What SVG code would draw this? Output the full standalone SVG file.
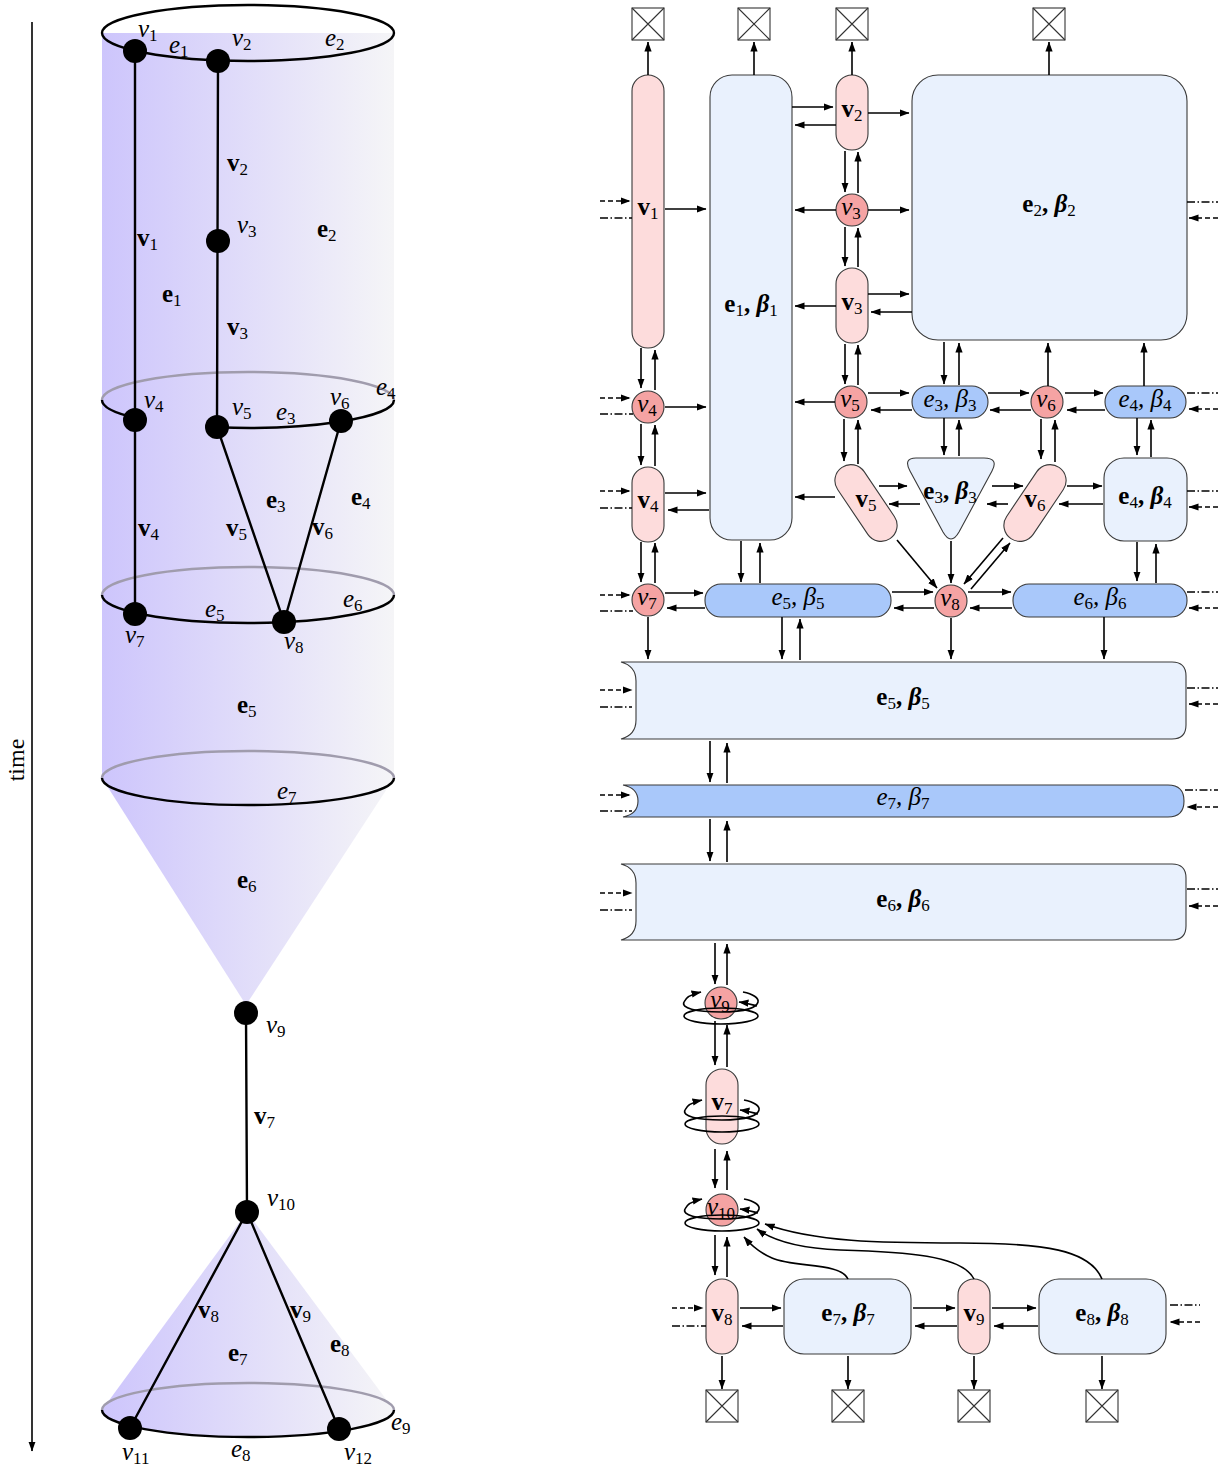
<svg xmlns="http://www.w3.org/2000/svg" width="1225" height="1470" viewBox="0 0 1225 1470">
<defs>
<style>
text{font-family:"Liberation Serif","DejaVu Serif",serif;font-size:25px;fill:#000}
.b{font-weight:bold}
.i{font-style:italic}
.s{font-size:17px;font-weight:normal;font-style:normal}
.bi{font-style:italic;font-weight:bold}
.vp{fill:#fddcdc;stroke:#3a3a3a;stroke-width:1.1}
.vc{fill:#f5a3a3;stroke:#3a3a3a;stroke-width:1.1}
.el{fill:#e9f1fd;stroke:#3a3a3a;stroke-width:1.1}
.em{fill:#a9c8fa;stroke:#3a3a3a;stroke-width:1.1}
.xb{fill:#fff;stroke:#333;stroke-width:1.1}
.c{stroke:#000;stroke-width:1.6;fill:none;marker-end:url(#ah)}
.cd{stroke:#000;stroke-width:1.6;fill:none;stroke-dasharray:5 3;marker-end:url(#ah)}
.dd{stroke:#000;stroke-width:1.6;fill:none;stroke-dasharray:8 2.5 1.5 2.5}
.n{stroke:#000;stroke-width:1.6;fill:none}
.k{stroke:#000;stroke-width:2.4;fill:none}
.g{stroke:#a09cad;stroke-width:2.4;fill:none}
.dot{fill:#000}
</style>
<linearGradient id="gb" gradientUnits="userSpaceOnUse" x1="102" y1="0" x2="394" y2="0"><stop offset="0" stop-color="#cdc5fc"/><stop offset="1" stop-color="#f5f5f7"/></linearGradient>
<linearGradient id="gt" gradientUnits="userSpaceOnUse" x1="102" y1="0" x2="394" y2="0"><stop offset="0" stop-color="#f4f4f7"/><stop offset="1" stop-color="#cdc5fc"/></linearGradient>
<marker id="ah" viewBox="0 0 10 8" refX="9.5" refY="4" markerWidth="10" markerHeight="8" markerUnits="userSpaceOnUse" orient="auto"><path d="M0,0.4 L10,4 L0,7.6 Z" fill="#000"/></marker>
<g id="xbox"><rect x="-16" y="-16" width="32" height="32" class="xb"/><path d="M-16,-16 L16,16 M16,-16 L-16,16" stroke="#333" stroke-width="1.1"/></g>
<g id="coil">
<ellipse cx="0" cy="13" rx="37" ry="8" class="n"/>
<path d="M0,9 C-26,9 -40,5 -37,-1 C-35,-6 -29,-9 -20,-11" class="n" marker-end="url(#ah)"/>
<path d="M22,-11 C32,-9 38,-5 37,-1 C36,4 26,9 0,9" class="n"/>
<path d="M36,3 C32,2 27,0 18,-1" class="n" marker-end="url(#ah)"/>
</g>
</defs>
<rect width="1225" height="1470" fill="#fff"/>

<!-- LEFT: spacetime figure -->
<g id="left-figure">
<line x1="32" y1="22" x2="32" y2="1451" class="c" style="stroke-width:1.6"/>
<text x="24" y="760" style="font-size:24px" text-anchor="middle" transform="rotate(-90 24 760)">time</text>

<path d="M102,33 V778 L246,1005 L394,778 V33 Z" fill="url(#gb)"/>
<path d="M247,1212 L102,1410 A146,27 0 0 0 394,1410 Z" fill="url(#gb)"/>
<ellipse cx="248" cy="1410" rx="146" ry="27" fill="url(#gb)"/>
<ellipse cx="248" cy="33" rx="146" ry="28" fill="url(#gt)" class="k"/>

<path d="M102,400 A146,28 0 0 1 394,400" class="g"/>
<path d="M102,400 A146,28 0 0 0 135,417.8" class="k"/>
<path d="M217,427.3 A146,28 0 0 0 394,400" class="k"/>
<path d="M102,595 A146,28 0 0 1 394,595" class="g"/>
<path d="M102,595 A146,28 0 0 0 394,595" class="k"/>
<path d="M102,778 A146,27 0 0 1 394,778" class="g"/>
<path d="M102,778 A146,27 0 0 0 394,778" class="k"/>
<path d="M102,1410 A146,27 0 0 1 394,1410" class="g"/>
<path d="M102,1410 A146,27 0 0 0 394,1410" class="k"/>

<path d="M135,51 V614 M218,61 L217,427 L284,622 L341,421 M246,1013 L247,1212 L130,1428 M247,1212 L339,1429" class="k"/>

<circle cx="135" cy="51" r="12" class="dot"/>
<circle cx="218" cy="61" r="12" class="dot"/>
<circle cx="218" cy="241" r="12" class="dot"/>
<circle cx="135" cy="420" r="12" class="dot"/>
<circle cx="217" cy="427" r="12" class="dot"/>
<circle cx="341" cy="421" r="12" class="dot"/>
<circle cx="135" cy="614" r="12" class="dot"/>
<circle cx="284" cy="622" r="12" class="dot"/>
<circle cx="246" cy="1013" r="12" class="dot"/>
<circle cx="247" cy="1212" r="12" class="dot"/>
<circle cx="130" cy="1428" r="12" class="dot"/>
<circle cx="339" cy="1429" r="12" class="dot"/>

<text class="i" x="138" y="37">v<tspan class="s" dy="4">1</tspan></text>
<text class="i" x="169" y="53">e<tspan class="s" dy="4">1</tspan></text>
<text class="i" x="232" y="46">v<tspan class="s" dy="4">2</tspan></text>
<text class="i" x="325" y="46">e<tspan class="s" dy="4">2</tspan></text>
<text class="b" x="227" y="171">v<tspan class="s" dy="4">2</tspan></text>
<text class="i" x="237" y="233">v<tspan class="s" dy="4">3</tspan></text>
<text class="b" x="317" y="237">e<tspan class="s" dy="4">2</tspan></text>
<text class="b" x="137" y="246">v<tspan class="s" dy="4">1</tspan></text>
<text class="b" x="162" y="302">e<tspan class="s" dy="4">1</tspan></text>
<text class="b" x="227" y="335">v<tspan class="s" dy="4">3</tspan></text>
<text class="i" x="144" y="408">v<tspan class="s" dy="4">4</tspan></text>
<text class="i" x="232" y="415">v<tspan class="s" dy="4">5</tspan></text>
<text class="i" x="276" y="420">e<tspan class="s" dy="4">3</tspan></text>
<text class="i" x="330" y="405">v<tspan class="s" dy="4">6</tspan></text>
<text class="i" x="376" y="395">e<tspan class="s" dy="4">4</tspan></text>
<text class="b" x="266" y="508">e<tspan class="s" dy="4">3</tspan></text>
<text class="b" x="351" y="505">e<tspan class="s" dy="4">4</tspan></text>
<text class="b" x="138" y="536">v<tspan class="s" dy="4">4</tspan></text>
<text class="b" x="226" y="536">v<tspan class="s" dy="4">5</tspan></text>
<text class="b" x="312" y="535">v<tspan class="s" dy="4">6</tspan></text>
<text class="i" x="205" y="617">e<tspan class="s" dy="4">5</tspan></text>
<text class="i" x="343" y="607">e<tspan class="s" dy="4">6</tspan></text>
<text class="i" x="125" y="643">v<tspan class="s" dy="4">7</tspan></text>
<text class="i" x="284" y="649">v<tspan class="s" dy="4">8</tspan></text>
<text class="b" x="237" y="713">e<tspan class="s" dy="4">5</tspan></text>
<text class="i" x="277" y="799">e<tspan class="s" dy="4">7</tspan></text>
<text class="b" x="237" y="888">e<tspan class="s" dy="4">6</tspan></text>
<text class="i" x="266" y="1033">v<tspan class="s" dy="4">9</tspan></text>
<text class="b" x="254" y="1124">v<tspan class="s" dy="4">7</tspan></text>
<text class="i" x="267" y="1206">v<tspan class="s" dy="4">10</tspan></text>
<text class="b" x="198" y="1318">v<tspan class="s" dy="4">8</tspan></text>
<text class="b" x="290" y="1318">v<tspan class="s" dy="4">9</tspan></text>
<text class="b" x="228" y="1361">e<tspan class="s" dy="4">7</tspan></text>
<text class="b" x="330" y="1352">e<tspan class="s" dy="4">8</tspan></text>
<text class="i" x="391" y="1430">e<tspan class="s" dy="4">9</tspan></text>
<text class="i" x="122" y="1460">v<tspan class="s" dy="4">11</tspan></text>
<text class="i" x="231" y="1457">e<tspan class="s" dy="4">8</tspan></text>
<text class="i" x="344" y="1460">v<tspan class="s" dy="4">12</tspan></text>
</g>

<!-- RIGHT: factor graph nodes -->
<g id="nodes">
<g id="x-top"><use href="#xbox" x="648" y="24"/><use href="#xbox" x="754" y="24"/><use href="#xbox" x="852" y="24"/><use href="#xbox" x="1049" y="24"/></g>
<g id="x-bottom"><use href="#xbox" x="722" y="1406"/><use href="#xbox" x="848" y="1406"/><use href="#xbox" x="974" y="1406"/><use href="#xbox" x="1102" y="1406"/></g>

<g id="nV1"><rect x="632" y="75" width="32" height="273" rx="16" class="vp"/><text class="b" x="648" y="215" text-anchor="middle">v<tspan class="s" dy="4">1</tspan></text></g>
<g id="nE1"><rect x="710" y="75" width="82" height="465" rx="22" class="el"/><text class="b" x="751" y="312" text-anchor="middle">e<tspan class="s" dy="4">1</tspan><tspan dy="-4">, </tspan><tspan class="bi">β</tspan><tspan class="s" dy="4">1</tspan></text></g>
<g id="nV2"><rect x="836" y="75" width="32" height="75" rx="16" class="vp"/><text class="b" x="852" y="117" text-anchor="middle">v<tspan class="s" dy="4">2</tspan></text></g>
<g id="nv3"><circle cx="852" cy="210" r="16" class="vc"/><text class="i" x="851" y="215" text-anchor="middle">v<tspan class="s" dy="4">3</tspan></text></g>
<g id="nV3"><rect x="836" y="268" width="32" height="75" rx="16" class="vp"/><text class="b" x="852" y="310" text-anchor="middle">v<tspan class="s" dy="4">3</tspan></text></g>
<g id="nE2"><rect x="912" y="75" width="275" height="265" rx="26" class="el"/><text class="b" x="1049" y="212" text-anchor="middle">e<tspan class="s" dy="4">2</tspan><tspan dy="-4">, </tspan><tspan class="bi">β</tspan><tspan class="s" dy="4">2</tspan></text></g>
<g id="nv4"><circle cx="648" cy="407" r="16" class="vc"/><text class="i" x="647" y="412" text-anchor="middle">v<tspan class="s" dy="4">4</tspan></text></g>
<g id="nV4"><rect x="632" y="467" width="32" height="75" rx="16" class="vp"/><text class="b" x="648" y="508" text-anchor="middle">v<tspan class="s" dy="4">4</tspan></text></g>
<g id="nv5"><circle cx="851" cy="402" r="16" class="vc"/><text class="i" x="850" y="407" text-anchor="middle">v<tspan class="s" dy="4">5</tspan></text></g>
<g id="ne3"><rect x="912" y="386" width="76" height="32" rx="16" class="em"/><text class="i" x="950" y="407" text-anchor="middle">e<tspan class="s" dy="4">3</tspan><tspan dy="-4">, β</tspan><tspan class="s" dy="4">3</tspan></text></g>
<g id="nv6"><circle cx="1047" cy="402" r="16" class="vc"/><text class="i" x="1046" y="407" text-anchor="middle">v<tspan class="s" dy="4">6</tspan></text></g>
<g id="ne4"><rect x="1105" y="386" width="81" height="32" rx="16" class="em"/><text class="i" x="1145" y="407" text-anchor="middle">e<tspan class="s" dy="4">4</tspan><tspan dy="-4">, β</tspan><tspan class="s" dy="4">4</tspan></text></g>
<g id="nV5"><rect x="-16" y="-43" width="32" height="86" rx="16" class="vp" transform="translate(866,503) rotate(-34)"/><text class="b" x="866" y="507" text-anchor="middle">v<tspan class="s" dy="4">5</tspan></text></g>
<g id="nE3"><path d="M916,458 H984 Q999,458 992,471 L959,532 Q951,546 943,532 L910,471 Q903,458 916,458 Z" class="el"/><text class="b" x="950" y="499" text-anchor="middle">e<tspan class="s" dy="4">3</tspan><tspan dy="-4">, </tspan><tspan class="bi">β</tspan><tspan class="s" dy="4">3</tspan></text></g>
<g id="nV6"><rect x="-16" y="-43" width="32" height="86" rx="16" class="vp" transform="translate(1035,503) rotate(34)"/><text class="b" x="1035" y="507" text-anchor="middle">v<tspan class="s" dy="4">6</tspan></text></g>
<g id="nE4"><rect x="1104" y="458" width="83" height="83" rx="20" class="el"/><text class="b" x="1145" y="504" text-anchor="middle">e<tspan class="s" dy="4">4</tspan><tspan dy="-4">, </tspan><tspan class="bi">β</tspan><tspan class="s" dy="4">4</tspan></text></g>
<g id="nv7"><circle cx="648" cy="600" r="16" class="vc"/><text class="i" x="647" y="605" text-anchor="middle">v<tspan class="s" dy="4">7</tspan></text></g>
<g id="ne5"><rect x="705" y="584" width="186" height="33" rx="16" class="em"/><text class="i" x="798" y="605" text-anchor="middle">e<tspan class="s" dy="4">5</tspan><tspan dy="-4">, β</tspan><tspan class="s" dy="4">5</tspan></text></g>
<g id="nv8"><circle cx="951" cy="601" r="16" class="vc"/><text class="i" x="950" y="606" text-anchor="middle">v<tspan class="s" dy="4">8</tspan></text></g>
<g id="ne6"><rect x="1013" y="584" width="174" height="33" rx="16" class="em"/><text class="i" x="1100" y="605" text-anchor="middle">e<tspan class="s" dy="4">6</tspan><tspan dy="-4">, β</tspan><tspan class="s" dy="4">6</tspan></text></g>
<g id="nE5"><path d="M621,662 H1172 Q1186,662 1186,676 V725 Q1186,739 1172,739 H621 Q636,735 636,720 V681 Q636,666 621,662 Z" class="el"/><text class="b" x="903" y="705" text-anchor="middle">e<tspan class="s" dy="4">5</tspan><tspan dy="-4">, </tspan><tspan class="bi">β</tspan><tspan class="s" dy="4">5</tspan></text></g>
<g id="nE7"><path d="M623,785 H1168 Q1184,785 1184,801 Q1184,817 1168,817 H623 Q638,814 638,801 Q638,788 623,785 Z" class="em"/><text class="i" x="903" y="805" text-anchor="middle">e<tspan class="s" dy="4">7</tspan><tspan dy="-4">, β</tspan><tspan class="s" dy="4">7</tspan></text></g>
<g id="nE6"><path d="M621,864 H1172 Q1186,864 1186,878 V926 Q1186,940 1172,940 H621 Q636,936 636,921 V883 Q636,868 621,864 Z" class="el"/><text class="b" x="903" y="907" text-anchor="middle">e<tspan class="s" dy="4">6</tspan><tspan dy="-4">, </tspan><tspan class="bi">β</tspan><tspan class="s" dy="4">6</tspan></text></g>
<g id="nv9"><circle cx="721" cy="1003" r="16" class="vc"/><text class="i" x="720" y="1008" text-anchor="middle">v<tspan class="s" dy="4">9</tspan></text><use href="#coil" x="721" y="1003"/></g>
<g id="nV7"><rect x="706" y="1069" width="32" height="75" rx="16" class="vp"/><text class="b" x="722" y="1110" text-anchor="middle">v<tspan class="s" dy="4">7</tspan></text><use href="#coil" x="722" y="1111"/></g>
<g id="nv10"><circle cx="722" cy="1210" r="16" class="vc"/><text class="i" x="721" y="1215" text-anchor="middle">v<tspan class="s" dy="4">10</tspan></text><use href="#coil" x="722" y="1210"/></g>
<g id="nV8"><rect x="706" y="1279" width="32" height="75" rx="16" class="vp"/><text class="b" x="722" y="1321" text-anchor="middle">v<tspan class="s" dy="4">8</tspan></text></g>
<g id="nE7b"><rect x="784" y="1279" width="127" height="75" rx="20" class="el"/><text class="b" x="848" y="1321" text-anchor="middle">e<tspan class="s" dy="4">7</tspan><tspan dy="-4">, </tspan><tspan class="bi">β</tspan><tspan class="s" dy="4">7</tspan></text></g>
<g id="nV9"><rect x="958" y="1279" width="32" height="75" rx="16" class="vp"/><text class="b" x="974" y="1321" text-anchor="middle">v<tspan class="s" dy="4">9</tspan></text></g>
<g id="nE8"><rect x="1039" y="1279" width="127" height="75" rx="20" class="el"/><text class="b" x="1102" y="1321" text-anchor="middle">e<tspan class="s" dy="4">8</tspan><tspan dy="-4">, </tspan><tspan class="bi">β</tspan><tspan class="s" dy="4">8</tspan></text></g>
</g>

<g id="connectors">
<path class="c" d="M648,75 V42"/><path class="c" d="M754,75 V42"/><path class="c" d="M852,75 V42"/><path class="c" d="M1049,75 V42"/>
<path class="c" d="M665,209 H706"/>
<path class="c" d="M792,107 H833"/><path class="c" d="M836,125 H795"/><path class="c" d="M868,113 H909"/>
<path class="c" d="M845,151 V192"/><path class="c" d="M858,193 V152"/>
<path class="c" d="M836,210 H795"/><path class="c" d="M868,210 H909"/>
<path class="c" d="M845,227 V266"/><path class="c" d="M858,267 V228"/>
<path class="c" d="M868,294 H909"/><path class="c" d="M912,312 H871"/><path class="c" d="M836,306 H795"/>
<path class="c" d="M845,344 V384"/><path class="c" d="M858,385 V345"/>
<path class="c" d="M641,348 V388"/><path class="c" d="M655,390 V350"/>
<path class="c" d="M665,407 H706"/>
<path class="c" d="M641,424 V465"/><path class="c" d="M655,466 V425"/>
<path class="c" d="M665,493 H706"/><path class="c" d="M709,510 H668"/>
<path class="c" d="M641,542 V582"/><path class="c" d="M655,583 V543"/>
<path class="c" d="M665,593 H703"/><path class="c" d="M705,608 H667"/>
<path class="c" d="M648,617 V659"/>
<path class="c" d="M741,541 V582"/><path class="c" d="M760,583 V543"/>
<path class="c" d="M782,617 V659"/><path class="c" d="M800,660 V619"/>
<path class="c" d="M835,402 H795"/>
<path class="c" d="M868,393 H909"/><path class="c" d="M912,410 H871"/>
<path class="c" d="M944,342 V384"/><path class="c" d="M959,385 V343"/>
<path class="c" d="M988,393 H1029"/><path class="c" d="M1031,410 H990"/>
<path class="c" d="M1048,386 V343"/>
<path class="c" d="M1065,393 H1103"/><path class="c" d="M1105,410 H1067"/>
<path class="c" d="M1144,386 V343"/>
<path class="c" d="M844,419 V461"/><path class="c" d="M858,464 V420"/>
<path class="c" d="M835,497 H795"/>
<path class="c" d="M944,418 V455"/><path class="c" d="M959,456 V420"/>
<path class="c" d="M879,486 H907"/><path class="c" d="M920,504 H889"/>
<path class="c" d="M992,486 H1023"/><path class="c" d="M1008,504 H987"/>
<path class="c" d="M1041,419 V459"/><path class="c" d="M1055,462 V420"/>
<path class="c" d="M1067,486 H1102"/><path class="c" d="M1103,504 H1059"/>
<path class="c" d="M1137,418 V455"/><path class="c" d="M1151,457 V420"/>
<path class="c" d="M1137,542 V581"/><path class="c" d="M1156,583 V544"/>
<path class="c" d="M897,540 L937,588"/>
<path class="c" d="M951,541 V583"/>
<path class="c" d="M1003,538 L964,584"/><path class="c" d="M971,589 L1010,543"/>
<path class="c" d="M892,592 H933"/><path class="c" d="M934,608 H894"/>
<path class="c" d="M968,592 H1011"/><path class="c" d="M1012,608 H970"/>
<path class="c" d="M951,618 V659"/>
<path class="c" d="M1104,617 V659"/>
<path class="c" d="M710,741 V782"/><path class="c" d="M727,783 V743"/>
<path class="c" d="M710,819 V861"/><path class="c" d="M727,862 V821"/>
<path class="c" d="M715,943 V984"/><path class="c" d="M727,985 V944"/>
<path class="c" d="M715,1021 V1065"/><path class="c" d="M727,1067 V1025"/>
<path class="c" d="M715,1149 V1188"/><path class="c" d="M727,1190 V1151"/>
<path class="c" d="M715,1235 V1275"/><path class="c" d="M727,1277 V1237"/>
<path class="c" d="M740,1308 H781"/><path class="c" d="M783,1326 H742"/>
<path class="c" d="M913,1308 H955"/><path class="c" d="M957,1326 H915"/>
<path class="c" d="M992,1308 H1036"/><path class="c" d="M1038,1326 H994"/>
<path class="c" d="M722,1356 V1389"/><path class="c" d="M848,1356 V1389"/><path class="c" d="M974,1356 V1389"/><path class="c" d="M1102,1356 V1389"/>
<path class="c" d="M848,1279 C840,1262 795,1268 772,1258 C758,1252 750,1244 744,1237"/>
<path class="c" d="M974,1279 C962,1255 905,1252 840,1250 C795,1248 772,1240 757,1229"/>
<path class="c" d="M1102,1279 C1090,1250 1045,1243 960,1243 C880,1243 815,1242 765,1224"/>
<!-- external (dashed) links -->
<path class="cd" d="M600,201 H630"/><path class="dd" d="M600,218 H632"/>
<path class="cd" d="M600,398 H630"/><path class="dd" d="M600,414 H633"/>
<path class="cd" d="M600,491 H630"/><path class="dd" d="M600,508 H632"/>
<path class="cd" d="M600,595 H630"/><path class="dd" d="M600,611 H633"/>
<path class="cd" d="M600,690 H632"/><path class="dd" d="M600,707 H632"/>
<path class="cd" d="M600,795 H630"/><path class="dd" d="M600,811 H632"/>
<path class="cd" d="M600,893 H632"/><path class="dd" d="M600,910 H632"/>
<path class="cd" d="M672,1308 H703"/><path class="dd" d="M672,1326 H706"/>
<path class="dd" d="M1187,202 H1218"/><path class="cd" d="M1218,218 H1189"/>
<path class="dd" d="M1187,393 H1218"/><path class="cd" d="M1218,409 H1189"/>
<path class="dd" d="M1187,491 H1218"/><path class="cd" d="M1218,507 H1189"/>
<path class="dd" d="M1187,592 H1218"/><path class="cd" d="M1218,608 H1189"/>
<path class="dd" d="M1187,688 H1218"/><path class="cd" d="M1218,704 H1189"/>
<path class="dd" d="M1185,790 H1218"/><path class="cd" d="M1218,807 H1187"/>
<path class="dd" d="M1187,889 H1218"/><path class="cd" d="M1218,906 H1189"/>
<path class="dd" d="M1170,1305 H1200"/><path class="cd" d="M1200,1322 H1170"/>
</g>
</svg>
